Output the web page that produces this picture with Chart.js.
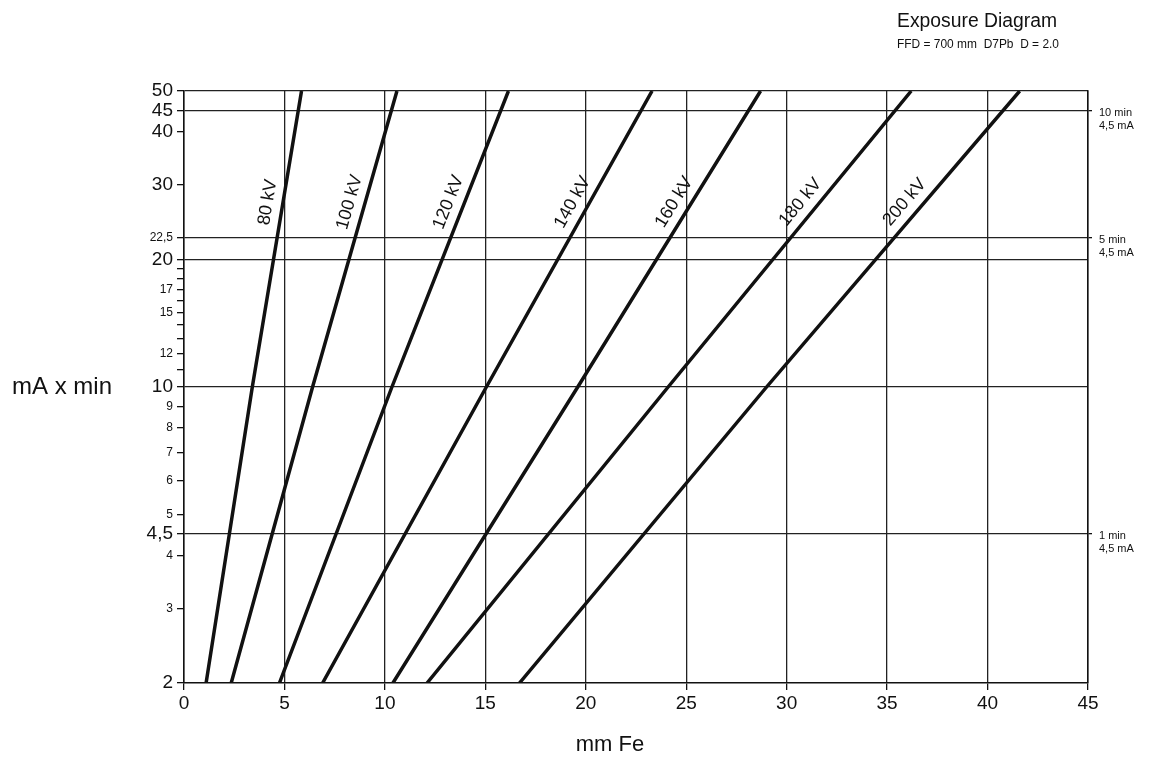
<!DOCTYPE html>
<html>
<head>
<meta charset="utf-8">
<title>Exposure Diagram</title>
<script src="https://cdn.jsdelivr.net/npm/chart.js@4.4.1/dist/chart.umd.min.js"></script>
<style>
  html, body { margin: 0; padding: 0; background: #fff; }
  #wrap { position: relative; width: 1149px; height: 765px; }
</style>
</head>
<body>
<div id="wrap"><canvas id="chart" width="1149" height="765"></canvas></div>
<script>
// ── Data ──────────────────────────────────────
// mA x min values at which each kV line was read
const mAmin = [2, 10, 50];
// mm Fe for each tube voltage at those mA x min values
const kvNames = ['80 kV', '100 kV', '120 kV', '140 kV', '160 kV', '180 kV', '200 kV'];
const fe80  = [1.1, 3.4, 5.85];
const fe100 = [2.35, 6.4, 10.6];
const fe120 = [4.75, 10.35, 16.15];
const fe140 = [6.9, 15.05, 23.3];
const fe160 = [10.4, 19.6, 28.7];
const fe180 = [12.1, 24.1, 36.2];
const fe200 = [16.7, 29.0, 41.6];
const feSeries = [fe80, fe100, fe120, fe140, fe160, fe180, fe200];

// axis ticks
const xTicks = [0, 5, 10, 15, 20, 25, 30, 35, 40, 45];
const yTicks = [2, 3, 4, 4.5, 5, 6, 7, 8, 9, 10, 11, 12, 13, 14, 15, 16, 17, 18, 19, 20, 22.5, 30, 40, 45, 50];
const yBigLabels = [2, 4.5, 10, 20, 30, 40, 45, 50];
const ySmallLabels = [3, 4, 5, 6, 7, 8, 9, 12, 15, 17, 22.5];
const yGridLines = [4.5, 10, 20, 22.5, 45, 50];
// right-hand exposure marks
const timeTicks = [4.5, 22.5, 45];
const timeLabels = [['1 min', '4,5 mA'], ['5 min', '4,5 mA'], ['10 min', '4,5 mA']];

const FONT = '"Liberation Sans", Arial, Helvetica, sans-serif';
const INK = '#111';

const fmt = v => String(v).replace('.', ',');

// ── Text drawn on the canvas: titles, axis names, kV labels ─
const annotations = {
  id: 'annotations',
  afterDatasetsDraw(chart) {
    const { ctx, scales: { y } } = chart;
    ctx.save();
    ctx.fillStyle = INK;
    ctx.textBaseline = 'alphabetic';
    ctx.textAlign = 'left';
    ctx.font = '20px ' + FONT;
    ctx.fillText('Exposure Diagram', 897, 27, 160);
    ctx.font = '13px ' + FONT;
    ctx.fillText('FFD = 700 mm  D7Pb  D = 2.0', 897, 48, 162);

    ctx.font = '24px ' + FONT;
    ctx.textBaseline = 'middle';
    ctx.fillText('mA x min', 12, y.getPixelForValue(10));

    ctx.textAlign = 'center';
    ctx.font = '22px ' + FONT;
    ctx.fillText('mm Fe', 610, 745);

    // kV labels beside each line, centred near the same height
    const centreY = y.getPixelForValue(27.3);
    const off = 15;
    ctx.font = '18px ' + FONT;
    chart.data.datasets.forEach((ds, i) => {
      const pts = chart.getDatasetMeta(i).data;
      const a0 = pts[pts.length - 2], b0 = pts[pts.length - 1];
      const ang0 = Math.atan2(b0.y - a0.y, b0.x - a0.x);
      const anchorY = centreY + off * Math.abs(Math.cos(ang0));
      for (let k = 0; k < pts.length - 1; k++) {
        const a = pts[k], b = pts[k + 1];
        if (anchorY <= a.y && anchorY >= b.y) {
          const t = (a.y - anchorY) / (a.y - b.y);
          const px = a.x + t * (b.x - a.x);
          const ang = Math.atan2(b.y - a.y, b.x - a.x);
          ctx.save();
          ctx.translate(px + off * Math.sin(ang), anchorY - off * Math.cos(ang));
          ctx.rotate(ang);
          ctx.fillText(ds.label, 0, 0);
          ctx.restore();
          break;
        }
      }
    });
    ctx.restore();
  }
};

new Chart(document.getElementById('chart'), {
  type: 'line',
  data: {
    datasets: feSeries.map((fe, i) => ({
      label: kvNames[i],
      data: fe.map((x, k) => ({ x, y: mAmin[k] })),
      borderColor: INK,
      borderWidth: 3.5,
      pointRadius: 0,
      tension: 0,
      yAxisID: 'y',
    })),
  },
  options: {
    responsive: false,
    animation: false,
    events: [],
    layout: { padding: { top: 91, left: 0, right: 0, bottom: 0 } },
    plugins: { legend: { display: false }, tooltip: { enabled: false } },
    scales: {
      x: {
        type: 'linear', min: 0, max: 45,
        afterBuildTicks: s => { s.ticks = xTicks.map(value => ({ value })); },
        afterFit: s => { s.height = 82; },
        border: { display: true, color: INK, width: 1.5 },
        grid: { color: '#222', lineWidth: 1.3, tickLength: 7, tickColor: INK },
        ticks: { font: { family: FONT, size: 19 }, color: INK, padding: 2, maxRotation: 0, autoSkip: false },
      },
      y: {
        type: 'logarithmic', min: 2, max: 50, position: 'left',
        afterBuildTicks: s => { s.ticks = yTicks.map(value => ({ value })); },
        afterFit: s => { s.width = 184; },
        border: { display: true, color: INK, width: 1.5 },
        grid: {
          color: c => (c.tick && yGridLines.includes(c.tick.value)) ? '#222' : 'rgba(0,0,0,0)',
          lineWidth: 1.3, tickLength: 7, tickColor: INK,
        },
        ticks: {
          autoSkip: false, padding: 4, color: INK,
          callback: v => (yBigLabels.includes(v) || ySmallLabels.includes(v)) ? fmt(v) : '',
          font: c => ({ family: FONT, size: (c.tick && yBigLabels.includes(c.tick.value)) ? 19 : 12 }),
        },
      },
      y2: {
        type: 'logarithmic', min: 2, max: 50, position: 'right',
        afterBuildTicks: s => { s.ticks = timeTicks.map(value => ({ value })); },
        afterFit: s => { s.width = 61; },
        border: { display: true, color: INK, width: 1.5 },
        grid: { drawOnChartArea: false, tickLength: 4, tickColor: INK, lineWidth: 1.3 },
        ticks: {
          autoSkip: false, padding: 7, color: INK, labelOffset: 9,
          font: { family: FONT, size: 11 },
          callback: v => timeLabels[timeTicks.indexOf(v)],
        },
      },
    },
  },
  plugins: [annotations],
});
</script>
</body>
</html>
